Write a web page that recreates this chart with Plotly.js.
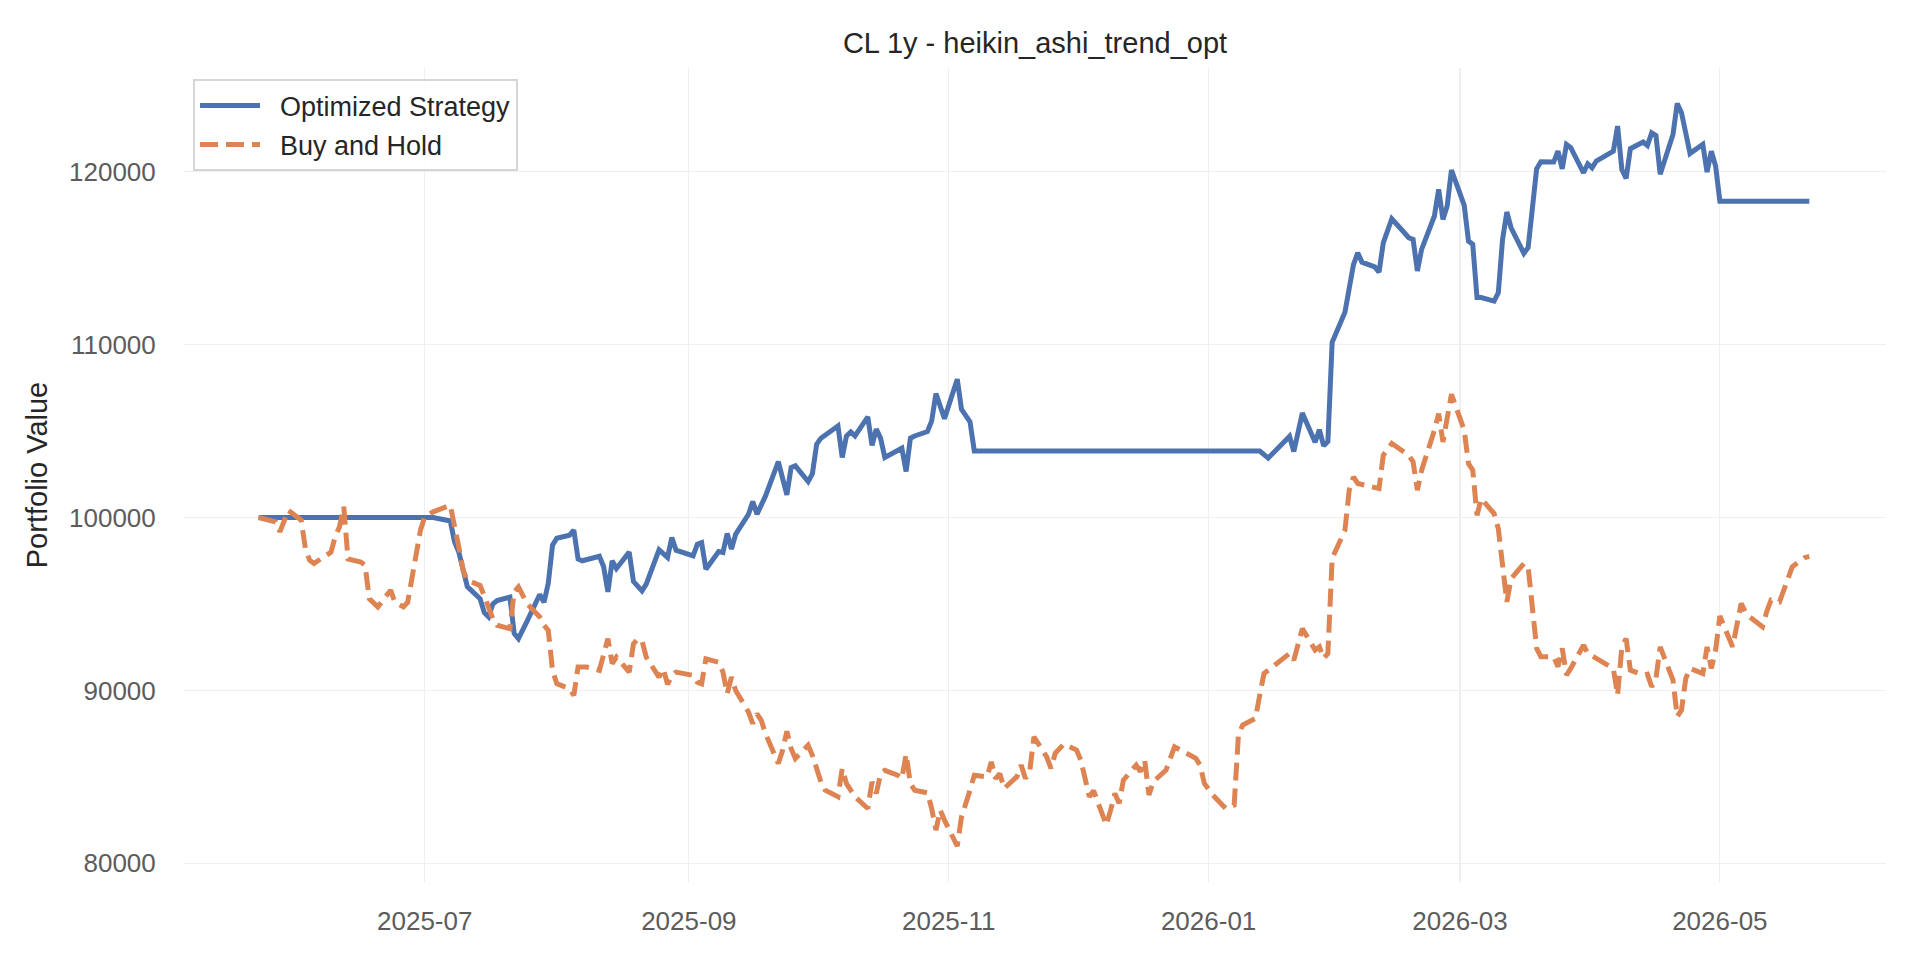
<!DOCTYPE html>
<html>
<head>
<meta charset="utf-8">
<script src="https://cdn.plot.ly/plotly-3.0.1.min.js"></script>
<style>
  html, body { margin: 0; padding: 0; background: #fff; }
  #chart { width: 1920px; height: 960px; }
</style>
</head>
<body>
<div id="chart"></div>
<script>
// portfolio value of the optimized strategy vs buy and hold
var stratDates = [
  '2025-05-23','2025-07-03','2025-07-07','2025-07-08','2025-07-09','2025-07-11','2025-07-14','2025-07-15',
  '2025-07-16','2025-07-17','2025-07-18','2025-07-21','2025-07-22','2025-07-23','2025-07-25','2025-07-28',
  '2025-07-29','2025-07-30','2025-07-31','2025-08-01','2025-08-04','2025-08-05','2025-08-06','2025-08-07',
  '2025-08-11','2025-08-12','2025-08-13','2025-08-14','2025-08-15','2025-08-18','2025-08-19','2025-08-21',
  '2025-08-22','2025-08-25','2025-08-27','2025-08-28','2025-08-29','2025-09-02','2025-09-03','2025-09-04',
  '2025-09-05','2025-09-08','2025-09-09','2025-09-10','2025-09-11','2025-09-12','2025-09-15','2025-09-16',
  '2025-09-17','2025-09-19','2025-09-22','2025-09-24','2025-09-25','2025-09-26','2025-09-29','2025-09-30',
  '2025-10-01','2025-10-02','2025-10-06','2025-10-07','2025-10-08','2025-10-09','2025-10-10','2025-10-13',
  '2025-10-14','2025-10-15','2025-10-16','2025-10-17','2025-10-21','2025-10-22','2025-10-23','2025-10-24',
  '2025-10-27','2025-10-28','2025-10-29','2025-10-31','2025-11-03','2025-11-04','2025-11-06','2025-11-07',
  '2026-01-13','2026-01-15','2026-01-20','2026-01-21','2026-01-23','2026-01-26','2026-01-27','2026-01-28',
  '2026-01-29','2026-01-30','2026-02-02','2026-02-04','2026-02-05','2026-02-06','2026-02-09','2026-02-10',
  '2026-02-11','2026-02-12','2026-02-13','2026-02-17','2026-02-18','2026-02-19','2026-02-20','2026-02-23',
  '2026-02-24','2026-02-25','2026-02-26','2026-02-27','2026-03-02','2026-03-03','2026-03-04','2026-03-05',
  '2026-03-06','2026-03-09','2026-03-10','2026-03-11','2026-03-12','2026-03-13','2026-03-16','2026-03-17',
  '2026-03-18','2026-03-19','2026-03-20','2026-03-23','2026-03-24','2026-03-25','2026-03-26','2026-03-27',
  '2026-03-30','2026-03-31','2026-04-01','2026-04-02','2026-04-06','2026-04-07','2026-04-08','2026-04-09',
  '2026-04-10','2026-04-13','2026-04-14','2026-04-15','2026-04-16','2026-04-17','2026-04-20','2026-04-21',
  '2026-04-22','2026-04-24','2026-04-27','2026-04-28','2026-04-29','2026-04-30','2026-05-01','2026-05-22'
];
var stratValues = [
  100000,100000,99800,98600,98000,96000,95300,94500,
  94250,95000,95200,95400,93300,93000,94000,95550,
  95100,96200,98400,98800,98980,99270,97600,97500,
  97760,97150,95700,97500,97050,98000,96300,95760,
  96150,98130,97690,98850,98110,97780,98460,98550,
  97010,98030,97980,99080,98170,99040,100190,100920,
  100190,101250,103240,101310,102890,102990,102080,102540,
  104240,104590,105300,103470,104720,104950,104720,105820,
  104180,105110,104590,103470,104010,102660,104590,104720,
  104970,105590,107170,105720,108000,106260,105530,103850,
  103850,103440,104690,103820,106040,104350,105080,104150,
  104400,110140,111870,114630,115310,114770,114500,114190,
  115890,116700,117280,116180,116090,114260,115510,117440,
  118980,117240,118020,120100,118050,115990,115800,112720,
  112720,112520,113000,116090,117670,116760,115280,115610,
  118020,120170,120580,120560,121190,120170,121580,121390,
  119940,120460,120230,120620,121190,122640,120130,119610,
  121330,121720,121520,122250,122100,119850,122160,123950,
  123410,121060,121580,119980,121190,120330,118300,118300
];

var bhDates = [
  '2025-05-23','2025-05-27','2025-05-28','2025-05-30','2025-06-02','2025-06-03','2025-06-04','2025-06-05',
  '2025-06-09','2025-06-10','2025-06-11','2025-06-12','2025-06-13','2025-06-16','2025-06-17','2025-06-18',
  '2025-06-20','2025-06-23','2025-06-24','2025-06-26','2025-06-27','2025-06-30','2025-07-01','2025-07-03',
  '2025-07-07','2025-07-08','2025-07-09','2025-07-10','2025-07-11','2025-07-14','2025-07-16','2025-07-17',
  '2025-07-18','2025-07-21','2025-07-22','2025-07-23','2025-07-25','2025-07-28','2025-07-29','2025-07-30',
  '2025-07-31','2025-08-01','2025-08-04','2025-08-05','2025-08-06','2025-08-08','2025-08-11','2025-08-13',
  '2025-08-14','2025-08-15','2025-08-18','2025-08-19','2025-08-20','2025-08-21','2025-08-22','2025-08-25',
  '2025-08-26','2025-08-27','2025-08-28','2025-08-29','2025-09-02','2025-09-03','2025-09-04','2025-09-05',
  '2025-09-08','2025-09-09','2025-09-10','2025-09-11','2025-09-12','2025-09-15','2025-09-16','2025-09-17',
  '2025-09-18','2025-09-19','2025-09-22','2025-09-23','2025-09-24','2025-09-25','2025-09-26','2025-09-29',
  '2025-09-30','2025-10-02','2025-10-03','2025-10-06','2025-10-07','2025-10-08','2025-10-09','2025-10-10',
  '2025-10-13','2025-10-14','2025-10-15','2025-10-16','2025-10-17','2025-10-20','2025-10-21','2025-10-22',
  '2025-10-23','2025-10-24','2025-10-27','2025-10-28','2025-10-29','2025-10-30','2025-10-31','2025-11-03',
  '2025-11-04','2025-11-05','2025-11-06','2025-11-07','2025-11-10','2025-11-11','2025-11-12','2025-11-13',
  '2025-11-14','2025-11-17','2025-11-18','2025-11-19','2025-11-20','2025-11-21','2025-11-24','2025-11-25',
  '2025-11-26','2025-11-28','2025-12-01','2025-12-02','2025-12-03','2025-12-04','2025-12-05','2025-12-08',
  '2025-12-09','2025-12-10','2025-12-11','2025-12-12','2025-12-15','2025-12-16','2025-12-17','2025-12-18',
  '2025-12-19','2025-12-22','2025-12-24','2025-12-26','2025-12-29','2025-12-30','2025-12-31','2026-01-02',
  '2026-01-05','2026-01-07','2026-01-08','2026-01-09','2026-01-12','2026-01-13','2026-01-14','2026-01-15',
  '2026-01-20','2026-01-21','2026-01-23','2026-01-26','2026-01-27','2026-01-28','2026-01-29','2026-01-30',
  '2026-02-02','2026-02-03','2026-02-04','2026-02-05','2026-02-10','2026-02-11','2026-02-13','2026-02-17',
  '2026-02-18','2026-02-19','2026-02-20','2026-02-23','2026-02-24','2026-02-25','2026-02-26','2026-02-27',
  '2026-03-02','2026-03-03','2026-03-04','2026-03-05','2026-03-06','2026-03-09','2026-03-10','2026-03-11',
  '2026-03-12','2026-03-13','2026-03-16','2026-03-17','2026-03-18','2026-03-19','2026-03-20','2026-03-23',
  '2026-03-24','2026-03-25','2026-03-26','2026-03-27','2026-03-30','2026-03-31','2026-04-02','2026-04-06',
  '2026-04-07','2026-04-08','2026-04-09','2026-04-10','2026-04-13','2026-04-14','2026-04-15','2026-04-16',
  '2026-04-17','2026-04-20','2026-04-21','2026-04-22','2026-04-23','2026-04-24','2026-04-27','2026-04-28',
  '2026-04-29','2026-04-30','2026-05-01','2026-05-04','2026-05-06','2026-05-07','2026-05-08','2026-05-11',
  '2026-05-12','2026-05-13','2026-05-15','2026-05-18','2026-05-19','2026-05-21','2026-05-22'
];
var bhValues = [
  100000,99750,99170,100420,99850,98200,97530,97340,
  98000,98900,99460,100620,97600,97430,97240,95300,
  94830,95800,95100,94830,95100,99270,100040,100330,
  100710,99650,98300,96950,96370,96080,94900,94150,
  93770,93570,95700,95990,95020,94250,93770,93480,
  91160,90390,90100,89710,91350,91350,91160,93000,
  91550,91930,91060,92700,92980,92880,91920,90770,
  91250,90350,90870,91060,90870,90480,90380,91830,
  91630,91060,89810,90770,90000,88750,88080,88650,
  88270,87500,85770,86540,87630,86640,86060,86830,
  86250,84710,84230,83850,85480,84610,84230,83850,
  83170,84710,84040,85190,85380,85100,84900,86310,
  84610,84230,84080,83170,81920,83080,82500,81000,
  82690,83370,84230,85100,85000,85870,84900,85190,
  84330,85010,85680,84910,85300,87320,86160,85490,
  86360,86900,86550,85970,85010,83850,84200,82210,
  83080,84040,83470,84810,85680,85300,85970,83950,
  84720,85390,86740,86450,86070,85680,84620,83950,
  83180,83370,87420,88000,88380,89730,90980,91170,
  92140,91750,93580,92330,92520,91850,92140,97630,
  99270,101580,102350,101970,101680,103600,104280,103600,
  103220,101580,102740,105050,106010,104370,105820,107130,
  105050,103120,102740,100130,101100,100230,99360,97150,
  95120,96470,97340,97150,95030,92430,91950,91950,
  91370,92430,90890,91270,92620,92140,91850,91270,
  89730,92520,93000,91170,90890,90940,90210,90690,
  92520,90600,88480,88860,90690,91270,90980,92520,
  91270,92330,94300,92520,95030,94550,94260,93680,
  94550,95220,95120,97150,97340,97690,97750
];

var yTicks = [80000, 90000, 100000, 110000, 120000];

var fontFamily = '"Liberation Sans", Arial, Helvetica, sans-serif';
// small gap between the legend handle and its label, like the matplotlib legend
var labelPad = '\u00a0\u00a0';

var traces = [
  {
    x: stratDates,
    y: stratValues,
    name: labelPad + 'Optimized Strategy',
    legendgroup: 'strategy',
    type: 'scatter',
    mode: 'lines',
    line: {color: '#4c72b0', width: 5}
  },
  {
    x: bhDates,
    y: bhValues,
    name: labelPad + 'Buy and Hold',
    legendgroup: 'hold',
    type: 'scatter',
    mode: 'lines',
    line: {color: '#dd8452', width: 5, dash: '18px,8px'}
  }
];

var layout = {
  width: 1920,
  height: 960,
  margin: {l: 184, r: 34, t: 68, b: 78},
  paper_bgcolor: '#ffffff',
  plot_bgcolor: '#ffffff',
  font: {family: fontFamily, color: '#262626'},
  title: {
    text: 'CL 1y - heikin_ashi_trend_opt',
    x: 0.5, xref: 'paper', xanchor: 'center',
    y: 0.955, yref: 'container', yanchor: 'middle',
    font: {size: 29, color: '#262626', family: fontFamily}
  },
  xaxis: {
    type: 'date',
    range: ['2025-05-05 12:00', '2026-06-09 00:00'],
    tick0: '2025-07-01',
    dtick: 'M2',
    tickformat: '%Y-%m',
    showgrid: true,
    gridcolor: '#efefef',
    gridwidth: 1.3,
    zeroline: false,
    showline: false,
    ticks: 'outside',
    ticklen: 16,
    tickcolor: 'rgba(0,0,0,0)',
    tickfont: {size: 26, color: '#5c5c5c', family: fontFamily}
  },
  yaxis: {
    range: [78920, 126000],
    tickvals: yTicks,
    ticktext: yTicks.map(String),
    showgrid: true,
    gridcolor: '#efefef',
    gridwidth: 1.3,
    zeroline: false,
    showline: false,
    ticks: 'outside',
    ticklen: 22,
    tickcolor: 'rgba(0,0,0,0)',
    tickfont: {size: 26, color: '#5c5c5c', family: fontFamily},
    title: {
      text: 'Portfolio Value',
      standoff: 12,
      font: {size: 29, color: '#262626', family: fontFamily}
    }
  },
  showlegend: true,
  legend: {
    x: 0.0053, y: 0.986,
    xanchor: 'left', yanchor: 'top',
    bgcolor: 'rgba(255,255,255,0.8)',
    bordercolor: '#d6d6d6',
    borderwidth: 2,
    itemwidth: 60,
    tracegroupgap: 1,
    traceorder: 'grouped',
    font: {size: 27, color: '#262626', family: fontFamily}
  },
  hovermode: false
};

Plotly.newPlot('chart', traces, layout, {displayModeBar: false, staticPlot: true});
</script>
</body>
</html>
